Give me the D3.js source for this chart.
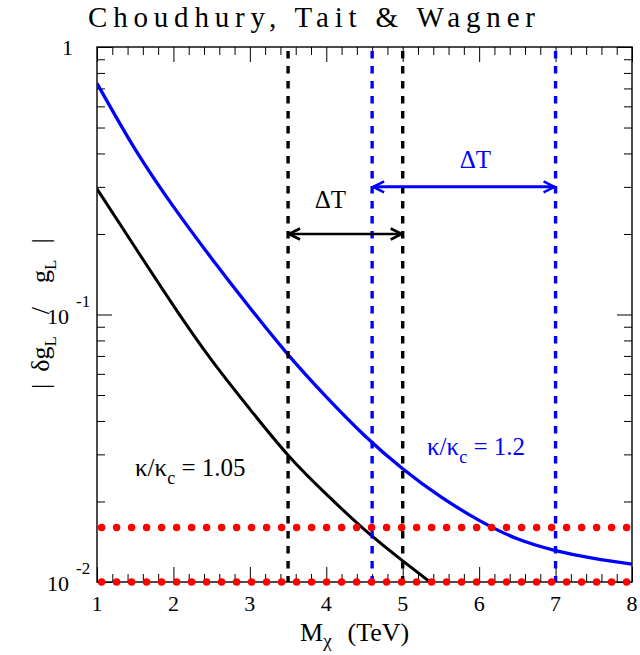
<!DOCTYPE html>
<html>
<head>
<meta charset="utf-8">
<script src="https://cdn.jsdelivr.net/npm/d3@7"></script>
<style>
  html, body { margin: 0; padding: 0; background: #fff; }
  svg { display: block; }
</style>
</head>
<body>
<svg id="chart" width="640" height="655"></svg>
<script>
// Coupling deviation |δg_L / g_L| versus mass M_χ (TeV)
const massPoints = [1, 1.5, 2, 2.5, 3, 3.5, 4, 4.5, 5, 5.5, 6, 6.5, 7, 7.5, 8];
const blueValues = [0.731, 0.414, 0.253, 0.162, 0.106, 0.0708, 0.0492, 0.0353, 0.0265, 0.0208, 0.0170, 0.0145, 0.0131, 0.01225, 0.01167];

const blackMass = [1, 1.5, 2, 2.5, 3, 3.5, 4, 4.5, 5, 5.5];
const blackValues = [0.295, 0.178, 0.108, 0.0675, 0.0443, 0.0298, 0.0213, 0.0157, 0.0120, 0.0093];

// Dotted reference levels
const refLevels = [0.01, 0.016];

// ΔT windows (start, end) for each κ/κc
const blackWindow = [3.5, 5.0];
const blueWindow = [4.6, 7.0];

const xTicks = [1, 2, 3, 4, 5, 6, 7, 8];
const yMajor = [1, 0.1, 0.01];
const yLabels = [{v: 1, base: "1", exp: ""}, {v: 0.1, base: "10", exp: "-1"}, {v: 0.01, base: "10", exp: "-2"}];

(function () {
const pL = 97, pR = 632, pT = 47, pB = 582;
const SERIF = "Liberation Serif, Times New Roman, Times, Tinos, Nimbus Roman, Noto Serif, DejaVu Serif, FreeSerif, serif";

const svg = d3.select("#chart");
const x = d3.scaleLinear().domain([1, 8]).range([pL, pR]);
const y = d3.scaleLog().domain([0.01, 1]).range([pB, pT]);

const BLUE = "#0000ff";

function txt(sel) { return sel.append("text").attr("font-family", SERIF).attr("fill", "#000"); }

const defs = svg.append("defs");
defs.append("clipPath").attr("id", "plotclip")
  .append("rect").attr("x", pL).attr("y", pT).attr("width", pR - pL).attr("height", pB - pT);

// open arrow heads
function addMarker(id, color) {
  defs.append("marker").attr("id", id)
    .attr("viewBox", "-12 -7 14 14").attr("refX", 0).attr("refY", 0)
    .attr("markerWidth", 14).attr("markerHeight", 14).attr("markerUnits", "userSpaceOnUse")
    .attr("orient", "auto-start-reverse")
    .append("path").attr("d", "M-11,-5.5 L0,0 L-11,5.5")
    .attr("fill", "none").attr("stroke", color).attr("stroke-width", 2.6);
}
addMarker("arrBlack", "#000");
addMarker("arrBlue", BLUE);

// minor tick values
const xMinor = d3.range(1, 8.0001, 0.2).map(v => +v.toFixed(1)).filter(v => !xTicks.includes(v));
const yMinor = [];
[0.01, 0.1].forEach(d => { for (let k = 2; k <= 9; k++) yMinor.push(d * k); });

const axisG = svg.append("g");
function tickAxis(gen, vals, size, transform) {
  const g = axisG.append("g").attr("transform", transform)
    .call(gen.tickValues(vals).tickSize(size).tickFormat(""));
  g.select(".domain").remove();
  g.selectAll(".tick line").attr("stroke", "#000").attr("stroke-width", 1);
}
tickAxis(d3.axisTop(x), xTicks, 15, `translate(0,${pB})`);
tickAxis(d3.axisTop(x), xMinor, 8, `translate(0,${pB})`);
tickAxis(d3.axisBottom(x), xTicks, 15, `translate(0,${pT})`);
tickAxis(d3.axisBottom(x), xMinor, 8, `translate(0,${pT})`);
tickAxis(d3.axisRight(y), yMajor, 15, `translate(${pL},0)`);
tickAxis(d3.axisRight(y), yMinor, 8, `translate(${pL},0)`);
tickAxis(d3.axisLeft(y), yMajor, 15, `translate(${pR},0)`);
tickAxis(d3.axisLeft(y), yMinor, 8, `translate(${pR},0)`);

// frame
svg.append("rect").attr("x", pL).attr("y", pT).attr("width", pR - pL).attr("height", pB - pT)
  .attr("fill", "none").attr("stroke", "#000").attr("stroke-width", 1.4);

const plot = svg.append("g").attr("clip-path", "url(#plotclip)");

// curves
const line = d3.line().x(d => x(d[0])).y(d => y(d[1])).curve(d3.curveNatural);
plot.append("path").datum(blackMass.map((m, i) => [m, blackValues[i]]))
  .attr("d", line).attr("fill", "none").attr("stroke", "#000").attr("stroke-width", 3);
plot.append("path").datum(massPoints.map((m, i) => [m, blueValues[i]]))
  .attr("d", line).attr("fill", "none").attr("stroke", BLUE).attr("stroke-width", 3.3);

// vertical dashed window edges
function vline(v, color) {
  svg.append("line").attr("x1", x(v)).attr("x2", x(v)).attr("y1", y(1) + 4).attr("y2", y(0.01))
    .attr("stroke", color).attr("stroke-width", 3.4).attr("stroke-dasharray", "7.5,7.5");
}
blackWindow.forEach(v => vline(v, "#000"));
blueWindow.forEach(v => vline(v, BLUE));

// ΔT arrows
function arrow(win, level, color, marker, width) {
  svg.append("line").attr("x1", x(win[0]) + 1).attr("x2", x(win[1]) - 1)
    .attr("y1", y(level)).attr("y2", y(level))
    .attr("stroke", color).attr("stroke-width", width)
    .attr("marker-start", `url(#${marker})`).attr("marker-end", `url(#${marker})`);
}
arrow(blackWindow, 0.2, "#000", "arrBlack", 2.6);
arrow(blueWindow, 0.3, BLUE, "arrBlue", 3);

txt(svg).attr("x", x((blackWindow[0] + blackWindow[1]) / 2) - 15).attr("y", 208)
  .attr("text-anchor", "middle").attr("font-size", 25).text("ΔT");
txt(svg).attr("x", x(5.95)).attr("y", 168)
  .attr("text-anchor", "middle").attr("font-size", 25).attr("fill", BLUE).text("ΔT");

// red dotted reference levels
refLevels.forEach(v => {
  svg.append("line").attr("x1", x(1)).attr("x2", x(8)).attr("y1", y(v)).attr("y2", y(v))
    .attr("stroke", "#ff0000").attr("stroke-width", 7.5).attr("stroke-linecap", "round")
    .attr("stroke-dasharray", "0,15").attr("stroke-dashoffset", 10.4);
});

// curve labels
function kappaLabel(xp, yp, val, color) {
  const t = txt(svg).attr("x", xp).attr("y", yp).attr("font-size", 25).attr("fill", color);
  t.append("tspan").text("κ/κ");
  t.append("tspan").attr("font-size", 18).attr("dy", 8).text("c");
  t.append("tspan").attr("dy", -8).text(" = " + val);
}
kappaLabel(135, 476, "1.05", "#000");
kappaLabel(427, 455, "1.2", BLUE);

// x tick labels
const xl = svg.append("g");
xTicks.forEach(d => {
  txt(xl).attr("x", x(d)).attr("y", 611).attr("text-anchor", "middle").attr("font-size", 22).text(d);
});

// y tick labels
yLabels.forEach(l => {
  if (l.exp === "") {
    txt(svg).attr("x", 73).attr("y", y(l.v) + 8).attr("text-anchor", "end")
      .attr("font-size", 22).text(l.base);
  } else {
    txt(svg).attr("x", 47).attr("y", y(l.v) + 9).attr("font-size", 22).text(l.base);
    txt(svg).attr("x", 76).attr("y", y(l.v) - 8).attr("font-size", 17).text(l.exp);
  }
});

// axis titles
const xt = txt(svg).attr("x", 300).attr("y", 641).attr("font-size", 26);
xt.append("tspan").text("M");
xt.append("tspan").attr("font-size", 19).attr("dy", 6).text("χ");
xt.append("tspan").attr("dy", -6).attr("dx", 16).text("(TeV)");

const yt = txt(svg).attr("transform", "translate(49,389) rotate(-90)").attr("font-size", 26);
yt.append("tspan").text("|");
yt.append("tspan").attr("dx", 12).text("δg");
yt.append("tspan").attr("font-size", 17).attr("dy", 7).text("L");
yt.append("tspan").attr("dy", -7).attr("dx", 22).text("/");
yt.append("tspan").attr("dx", 24).text("g");
yt.append("tspan").attr("font-size", 17).attr("dy", 7).text("L");
yt.append("tspan").attr("dy", -7).attr("dx", 16).text("|");

// title
txt(svg).attr("x", 88).attr("y", 27).attr("font-size", 29)
  .attr("textLength", 447).attr("lengthAdjust", "spacing")
  .text("Choudhury, Tait & Wagner");
})();
</script>
</body>
</html>
